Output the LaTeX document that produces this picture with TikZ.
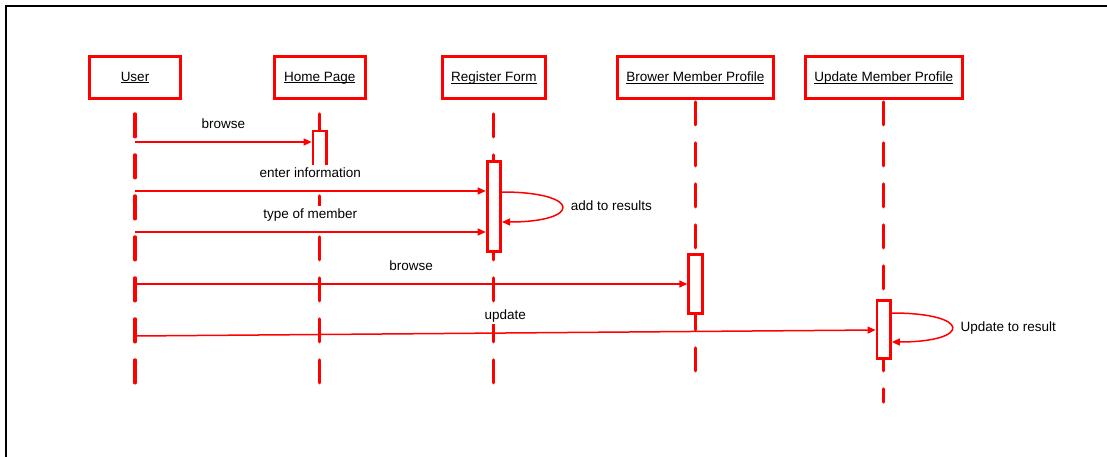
\documentclass[tikz,border=0pt]{standalone}
\usepackage{fontspec}
\setmainfont{Liberation Sans}
\usetikzlibrary{positioning}
\usetikzlibrary{arrows.meta}

\newcommand{\objname}[1]{\underline{\raisebox{0pt}[\height][0pt]{#1}}}

\begin{document}
\begin{tikzpicture}[x=1pt, y=-1pt,
        obj/.style={draw=red, text=black, line width=2.8pt, minimum height=42pt, inner sep=0pt, font=\fontsize{13.5}{16}\selectfont},
        act/.style={draw=red, fill=white, line width=2.8pt, minimum width=13.5pt, inner sep=0pt},
        life/.style={red, line width=3.2pt, dash pattern=on 23pt off 18pt, line cap=round},
        msg/.style={red, line width=1.5pt, -{Triangle[length=8pt, width=7pt]}},
        lbl/.style={fill=white, text=black, inner sep=2pt, text height=10pt, text depth=3pt, font=\fontsize{13.5}{16}\selectfont}]
            \useasboundingbox (0,0) rectangle (1107,457);
            \draw[line width=2pt] (6,457) -- (6,6) -- (1107,6);

            \node[obj, minimum width=91pt] (user) at (135,77.5) {\objname{User}};
            \node[obj, minimum width=91pt, right = 91pt of user] (home) {\objname{Home Page}};
            \node[obj, minimum width=103.5pt, right = 74pt of home] (reg) {\objname{Register Form}};
            \node[obj, minimum width=156pt, right = 69pt of reg] (brow) {\objname{Brower Member Profile}};
            \node[obj, minimum width=157pt, right = 29pt of brow] (upd) {\objname{Update Member Profile}};

            \draw[life] ([yshift=-14pt]user.south) -- (user |- 0,383);
            \draw[life] ([yshift=-14pt]home.south) -- (home |- 0,383);
            \draw[life] ([yshift=-14pt]reg.south) -- (reg |- 0,383);
            \draw[life] ([yshift=-2pt]brow.south) -- (brow |- 0,373);
            \draw[life] ([yshift=-2pt]upd.south) -- (upd |- 0,402);

            \node[act, minimum height=40pt] (homeact) at (home |- 0,151) {};
            \node[act, minimum height=90pt] (regact) at (reg |- 0,206.5) {};
            \node[act, minimum height=59.5pt] (browact) at (brow |- 0,284) {};
            \node[act, minimum height=58.5pt] (updact) at (upd |- 0,329.5) {};

            \coordinate (m1) at (user |- 0,142);
            \coordinate (m2) at (user |- 0,191);
            \coordinate (m3) at (user |- 0,232);
            \coordinate (m4) at (user |- 0,284);
            \coordinate (m5) at (user |- 0,336);

            \draw[msg] (m1) -- (homeact.west |- m1) node[lbl, midway, above=8pt] {browse};
            \draw[msg] (m2) -- (regact.west |- m2) node[lbl, midway, above=8pt] {enter information};
            \draw[msg] (m3) -- (regact.west |- m3) node[lbl, midway, above=8pt] {type of member};
            \draw[msg] (regact.east |- 0,192) .. controls +(80,0) and +(80,0) .. (regact.east |- 0,222)
                node[lbl, midway, right=6pt] {add to results};
            \draw[msg] (m4) -- (browact.west |- m4) node[lbl, midway, above=8pt] {browse};
            \draw[msg] (m5) -- (updact.west |- 0,330) node[lbl, midway, above=8pt] {update};
            \draw[msg] (updact.east |- 0,313) .. controls +(80,0) and +(80,0) .. (updact.east |- 0,342)
                node[lbl, midway, right=6pt] {Update to result};
        \end{tikzpicture}
\end{document}
